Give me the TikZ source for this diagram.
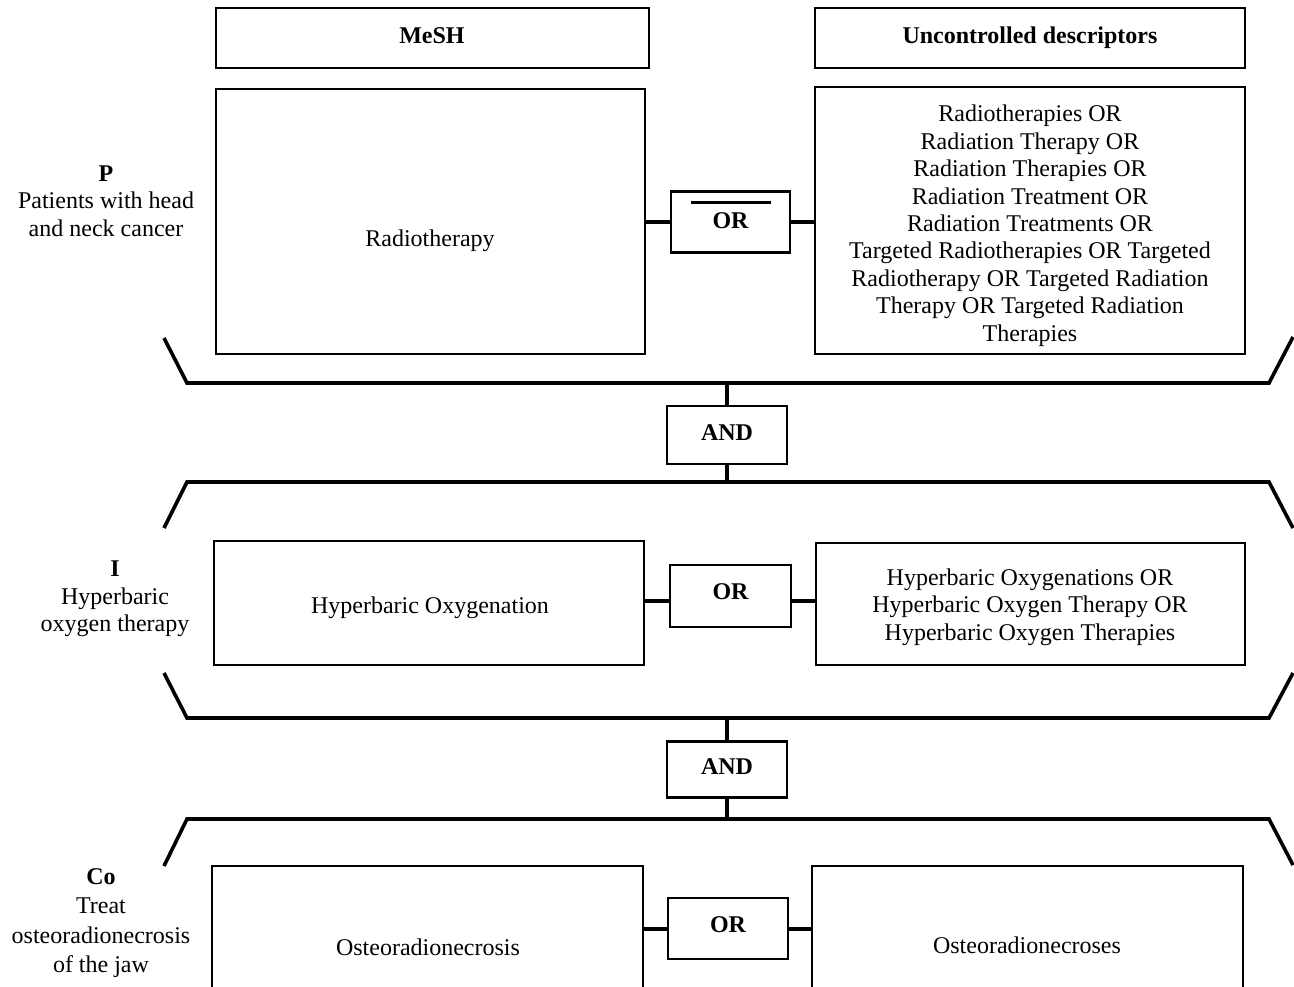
\documentclass[tikz,border=0pt]{standalone}
\usepackage{fontspec}
\setmainfont{Liberation Serif}
\begin{document}
\begin{tikzpicture}[x=1pt,y=-1pt,
  box/.style={draw,line width=2.4pt},
  opbox/.style={draw,line width=2.6pt,fill=white},
  conn/.style={line width=4pt},
  brk/.style={line width=3.6pt,line join=miter},
  txt/.style={align=center,font=\fontsize{24}{27.4}\selectfont,inner sep=0pt},
  btxt/.style={align=center,font=\fontsize{24}{27.4}\selectfont\bfseries,inner sep=0pt}]
\useasboundingbox (0,0) rectangle (1294,987);
\clip (0,0) rectangle (1294,987);

% header boxes
\draw[box] (216,8) rectangle (649,68);
\node[btxt,anchor=base] (mesh) at (432,44) {MeSH};
\draw[box] (815,8) rectangle (1245,68);
\node[btxt,anchor=base] (unc) at (1030,44) {Uncontrolled descriptors};

% P row
\draw[box] (216,89) rectangle (645,354);
\node[txt] (pmesh) at (430,241) {Radiotherapy};
\draw[box] (815,87) rectangle (1245,354);
\node[txt,anchor=north] (punc) at (1030,105) {Radiotherapies OR\\Radiation Therapy OR\\Radiation Therapies OR\\Radiation Treatment OR\\Radiation Treatments OR\\Targeted Radiotherapies OR Targeted\\Radiotherapy OR Targeted Radiation\\Therapy OR Targeted Radiation\\Therapies};
\coordinate (pL) at (645,222);
\coordinate (pR) at (815,222);
\node[opbox,minimum width=119pt,minimum height=61pt,inner sep=0pt] (or1) at (730.5,222) {};
\node[btxt] (or1t) at (730.5,221) {OR};
\draw[line width=3pt] (691,203) -- (771,203);
\draw[conn] (pL) -- (or1.west);
\draw[conn] (or1.east) -- (pR);
\node[btxt] (plab) at (106,201) {P\\\mdseries Patients with head\\\mdseries and neck cancer};

% bracket 1
\draw[brk] (164,338) -- (187,383) -- (1269,383) -- (1293,337);
\coordinate (b1) at (727,383);
\node[opbox,minimum width=120pt,minimum height=58pt,inner sep=0pt] (and1) at (727,435) {};
\node[btxt] (and1t) at (727,433) {AND};
\coordinate (b2) at (727,482);
\draw[conn] (b1) -- (and1.north);
\draw[conn] (and1.south) -- (b2);

% bracket 2
\draw[brk] (164,528) -- (187,482) -- (1269,482) -- (1293,528);

% I row
\draw[box] (214,541) rectangle (644,665);
\node[txt] (imesh) at (430,608) {Hyperbaric Oxygenation};
\draw[box] (816,543) rectangle (1245,665);
\node[txt] (iunc) at (1030,607) {Hyperbaric Oxygenations OR\\Hyperbaric Oxygen Therapy OR\\Hyperbaric Oxygen Therapies};
\coordinate (iL) at (644,601);
\coordinate (iR) at (816,601);
\node[opbox,minimum width=121pt,minimum height=62pt,inner sep=0pt] (or2) at (730.5,596) {};
\node[btxt] (or2t) at (730.5,592) {OR};
\draw[conn] (iL) -- (iL -| or2.west);
\draw[conn] (iR -| or2.east) -- (iR);
\node[btxt] (ilab) at (115,599) {I\\\mdseries Hyperbaric\\\mdseries oxygen therapy};

% bracket 3
\draw[brk] (164,673) -- (187,718) -- (1269,718) -- (1293,673);
\coordinate (b3) at (727,718);
\node[opbox,minimum width=120pt,minimum height=56pt,inner sep=0pt] (and2) at (727,769.5) {};
\node[btxt] (and2t) at (727,767) {AND};
\coordinate (b4) at (727,819);
\draw[conn] (b3) -- (and2.north);
\draw[conn] (and2.south) -- (b4);

% bracket 4
\draw[brk] (164,866) -- (187,819) -- (1269,819) -- (1293,865);

% Co row
\draw[box] (212,1000) -- (212,866) -- (643,866) -- (643,1000);
\node[txt] (cmesh) at (428,947) {Osteoradionecrosis};
\draw[box] (812,1000) -- (812,866) -- (1243,866) -- (1243,1000);
\node[txt] (cunc) at (1027,945) {Osteoradionecroses};
\coordinate (cL) at (643,929);
\coordinate (cR) at (812,929);
\node[opbox,minimum width=120pt,minimum height=61pt,inner sep=0pt] (or3) at (728,928.5) {};
\node[btxt] (or3t) at (728,925) {OR};
\draw[conn] (cL) -- (cL -| or3.west);
\draw[conn] (cR -| or3.east) -- (cR);
\node[btxt,font=\fontsize{24}{29.5}\selectfont\bfseries] (clab) at (101,923) {Co\\\mdseries Treat\\\mdseries osteoradionecrosis\\\mdseries of the jaw};
\end{tikzpicture}
\end{document}
